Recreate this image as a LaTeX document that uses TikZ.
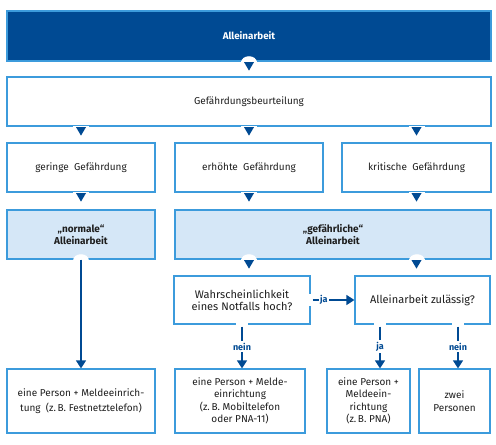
\documentclass[tikz,border=0pt]{standalone}
\usepackage{fontspec}
\setmainfont{Fira Sans}
\usetikzlibrary{arrows.meta,calc,positioning}
\definecolor{dunkelblau}{HTML}{004A93}
\definecolor{randblau}{HTML}{3C9BDC}
\definecolor{hellblau}{HTML}{D5E7F7}
\definecolor{schrift}{HTML}{1E1E1E}

\begin{document}
\begin{tikzpicture}[x=1pt,y=-1pt,
    kasten/.style={draw=randblau, line width=1.2pt, fill=white, text=schrift,
        align=center, inner sep=2pt, font=\fontsize{10}{12.5}\selectfont},
    frage/.style={kasten, font=\fontsize{11}{12}\selectfont},
    kopf/.style={kasten, fill=dunkelblau, text=white, font=\fontsize{9.8}{12.5}\selectfont\bfseries},
    stufe/.style={kasten, fill=hellblau, font=\fontsize{10}{12.5}\selectfont\bfseries},
    linie/.style={draw=dunkelblau, line width=1.3pt},
    pfeil/.style={linie, shorten <=2pt, -{Triangle[width=10pt,length=8pt]}},
    lbl/.style={fill=white, text=dunkelblau, font=\fontsize{9}{10}\selectfont\bfseries, inner sep=1.5pt},
    pics/spitze/.style={code={
        \fill[white] (-8,-1) rectangle (8,1.5);
        \fill[dunkelblau] (-5,0.5) -- (5,0.5) -- (0,9) -- cycle;}},
    pics/kerbe/.style={code={
        \fill[white] (-8,1) .. controls (-8,-8) and (8,-8) .. (8,1) -- cycle;}},
    pics/luecke/.style={code={
        \fill[white] (-6,-1.5) rectangle (6,1.5);}}
    ]
\useasboundingbox (0,0) rectangle (496,445);

% Kopf und Beurteilung
\node[kopf, minimum width=484pt, minimum height=50pt] (allein) at (249,36) {Alleinarbeit};
\node[kasten, minimum width=484pt, minimum height=49pt] (beurt) at (249,101.5) {Gefährdungsbeurteilung};

% Gefaehrdungsstufen
\node[kasten, minimum width=148pt, minimum height=49pt] (gering) at (81,167.5) {geringe~ Gefährdung};
\node[kasten, minimum width=148pt, minimum height=49pt] (erhoeht) at (249,167.5) {erhöhte~ Gefährdung};
\node[kasten, minimum width=149pt, minimum height=49pt] (kritisch) at (416.5,167.5) {kritische~ Gefährdung};

\node[stufe, minimum width=148pt, minimum height=49pt] (normal) at (81,234.5) {„normale“\\Alleinarbeit};
\node[stufe, minimum width=316pt, minimum height=49pt] (gefaehrlich) at (333,234.5) {„gefährliche“\\Alleinarbeit};

% Fragen
\node[frage, minimum width=136pt, minimum height=48pt] (wahr) at (242,300) {Wahrscheinlichkeit\\eines Notfalls hoch?};
\node[frage, minimum width=135pt, minimum height=48pt] (zul) at (422.5,300) {Alleinarbeit zulässig?};

% Ergebnisse
\node[kasten, minimum width=148pt, minimum height=64pt] (fest) at (81,401) {eine Person + Meldeeinrich-\\[2.5pt]tung~~(z.\,B. Festnetztelefon)};
\node[kasten, minimum width=130pt, minimum height=64pt] (mobil) at (240,401) {eine Person + Melde-\\einrichtung\\(z.\,B. Mobiltelefon\\oder PNA-11)};
\node[kasten, minimum width=83pt, minimum height=64pt] (pna) at (368.5,401) {eine Person +\\Meldeein-\\richtung\\(z.\,B. PNA)};
\node[kasten, minimum width=71pt, minimum height=64pt] (zwei) at (454.5,401) {zwei\\Personen};

% Spitzen unter den Kaesten
\pic at (allein.south) {kerbe};
\pic at (allein.south) {spitze};
\foreach \s in {gering,erhoeht,kritisch} {
    \pic at (beurt.south -| \s.south) {spitze};
    \pic at (\s.south) {spitze};
}
\pic at (normal.south) {kerbe};
\foreach \s in {erhoeht,kritisch} {
    \pic at (gefaehrlich.south -| \s.south) {kerbe};
    \pic at (gefaehrlich.south -| \s.south) {spitze};
}

% Verbindungen
\coordinate (zulja) at ([xshift=-42.5pt]zul.south);
\coordinate (zulnein) at ([xshift=35.5pt]zul.south);
\pic[rotate=90] at (wahr.east) {luecke};
\pic at (wahr.south) {luecke};
\pic at (zulja) {luecke};
\pic at (zulnein) {luecke};

\draw[pfeil, shorten <=0pt] (normal.south) -- (fest.north);
\draw[pfeil] (wahr.east) -- node[lbl, pos=0.3] {ja} (zul.west);
\draw[pfeil] (wahr.south) -- node[lbl] {nein} (wahr.south |- mobil.north);
\draw[pfeil] (zulja) -- node[lbl] {ja} (zulja |- pna.north);
\draw[pfeil] (zulnein) -- node[lbl] {nein} (zulnein |- zwei.north);
\end{tikzpicture}
\end{document}
